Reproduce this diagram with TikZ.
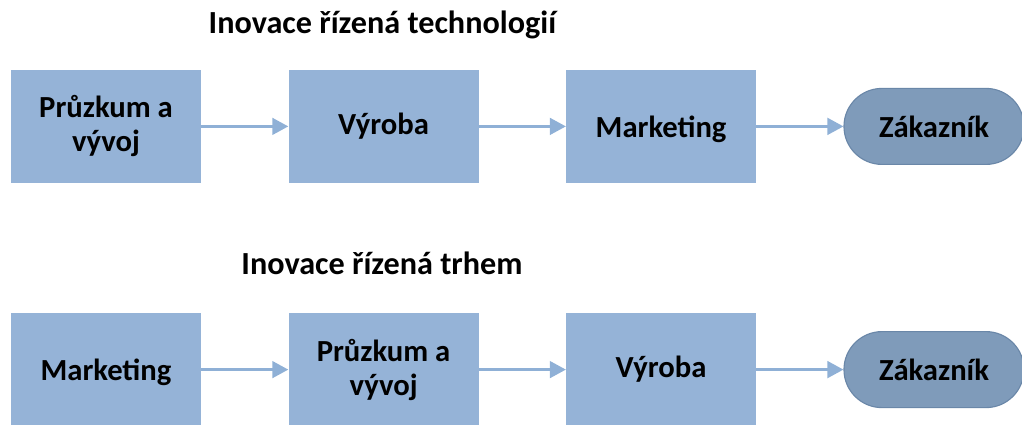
\documentclass[tikz,border=0pt]{standalone}
\usepackage{fontspec}
\setmainfont{Carlito}
\usepackage{tikz}
\usetikzlibrary{arrows.meta,positioning}
\definecolor{boxblue}{HTML}{95B3D7}
\definecolor{linkblue}{HTML}{8FB0D6}
\definecolor{custfill}{HTML}{7F9BBA}
\definecolor{custline}{HTML}{6A87A8}

\begin{document}
\begin{tikzpicture}[
  node distance=2.175cm,
  box/.style={fill=boxblue,minimum width=4.75cm,minimum height=2.825cm,align=center,inner sep=0pt,font=\fontsize{21.8}{24.2}\selectfont\bfseries},
  cust/.style={fill=custfill,draw=custline,line width=0.8pt,rounded corners=0.95cm,minimum width=4.5cm,minimum height=1.9cm,inner sep=0pt,font=\fontsize{21.8}{24.2}\selectfont\bfseries},
  arrow/.style={-{Triangle[length=0.4cm,width=0.42cm]},line width=1.6pt,draw=linkblue},
  heading/.style={anchor=base,font=\fontsize{22.9}{26}\selectfont\bfseries}
]
  \useasboundingbox (0,0) rectangle (25.55,-10.625);
  % technology push
  \node[heading] (t1) at (9.56,-0.83) {Inovace řízená technologií};
  \node[box] (rd1) at (2.65,-3.16) {Průzkum a\\vývoj};
  \node[box,right=of rd1] (vy1) {Výroba};
  \node[box,right=of vy1,text depth=0pt] (mk1) {Marketing};
  \node[cust,right=of mk1] (zk1) {Zákazník};
  \draw[arrow] (rd1) -- (vy1);
  \draw[arrow] (vy1) -- (mk1);
  \draw[arrow] (mk1) -- (zk1);
  % market pull
  \node[heading] (t2) at (9.55,-6.87) {Inovace řízená trhem};
  \node[box,text depth=0pt] (mk2) at (2.65,-9.24) {Marketing};
  \node[box,right=of mk2] (rd2) {Průzkum a\\vývoj};
  \node[box,right=of rd2] (vy2) {Výroba};
  \node[cust,right=of vy2] (zk2) {Zákazník};
  \draw[arrow] (mk2) -- (rd2);
  \draw[arrow] (rd2) -- (vy2);
  \draw[arrow] (vy2) -- (zk2);
\end{tikzpicture}
\end{document}
